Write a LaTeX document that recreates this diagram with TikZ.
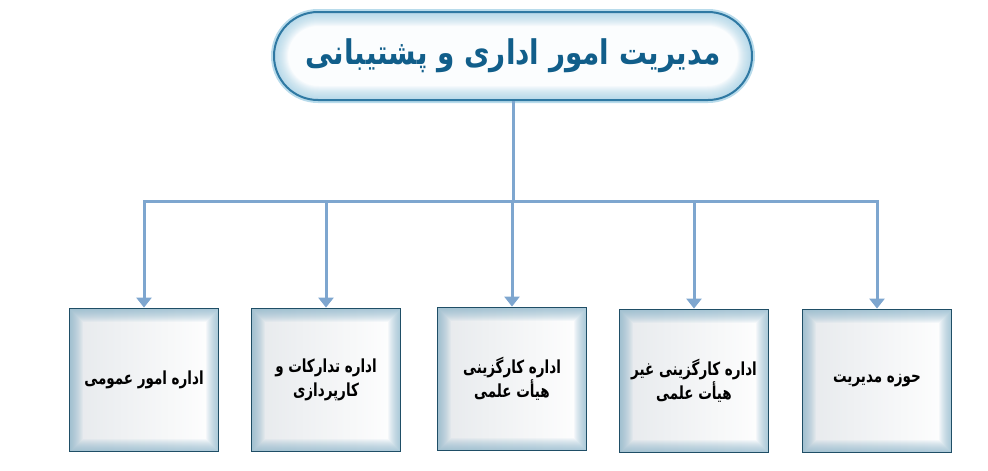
\documentclass[tikz,border=0pt]{standalone}
\usepackage{fontspec}
\usetikzlibrary{arrows.meta}
\TeXXeTstate=1
\newfontfamily\arabicfont[Script=Arabic, FakeStretch=0.82]{DejaVu Sans}
\newfontfamily\unitfont[Script=Arabic, FakeStretch=0.75]{DejaVu Sans}

\definecolor{linkblue}{HTML}{7EA6CF}
\definecolor{boxedge}{HTML}{1F4E66}
\definecolor{boxglow}{HTML}{7FAEC6}
\definecolor{boxgray}{HTML}{E6E9EC}
\definecolor{headedge}{HTML}{2F79A3}
\definecolor{headglow}{HTML}{9ACCE3}
\definecolor{headtext}{HTML}{115E8A}

\tikzset{
    headbox/.style={draw=headedge, line width=2pt, rounded corners=44pt,
        minimum width=478pt, minimum height=88pt, fill=white!96!headglow,
        preaction={draw=headglow!70, line width=6pt},
        path picture={
            \foreach \w in {2,4,...,28}
                \draw[headglow, line width=\w pt, opacity=.07, rounded corners=44pt]
                    (path picture bounding box.south west) rectangle (path picture bounding box.north east);
        },
        text=headtext, font=\arabicfont\bfseries\fontsize{34}{38}\selectfont},
    unitbox/.style={draw=boxedge, line width=1.8pt,
        minimum width=149pt, minimum height=143pt,
        left color=boxgray, right color=white,
        path picture={
            \foreach \w in {2,4,...,26}
                \draw[boxglow, line width=\w pt, opacity=.07, sharp corners]
                    (path picture bounding box.south west) rectangle (path picture bounding box.north east);
        },
        align=center, font=\unitfont\bfseries\fontsize{18}{24}\selectfont},
    link/.style={draw=linkblue, line width=3pt},
    drop/.style={link, -{Triangle[length=10pt,width=15pt]}}
}

\begin{document}
\begin{tikzpicture}[x=1pt, y=-1pt]
    % Fix the page size
    \useasboundingbox (0,0) rectangle (988,471);

    % Head of the chart
    \node[headbox] (head) at (513,56) {\beginR مدیریت امور اداری و پشتیبانی\endR};
    \coordinate (bus) at (513,201);

    % Departments
    \node[unitbox] (general) at (144,380) {\beginR اداره امور عمومی\endR};
    \node[unitbox] (supply) at (326,380) {\beginR اداره تدارکات و\endR\\\beginR کارپردازی\endR};
    \node[unitbox] (faculty) at (512,379) {\beginR اداره کارگزینی\endR\\\beginR هیأت علمی\endR};
    \node[unitbox] (staff) at (694,381) {\beginR اداره کارگزینی غیر\endR\\\beginR هیأت علمی\endR};
    \node[unitbox] (office) at (877,381) {\beginR حوزه مدیریت\endR};

    % Connect head to each department
    \draw[link] (head.south) -- (bus);
    \foreach \unit in {general,supply,faculty,staff,office} {
        \draw[drop] (bus) -| (\unit.north);
    }
\end{tikzpicture}
\end{document}
